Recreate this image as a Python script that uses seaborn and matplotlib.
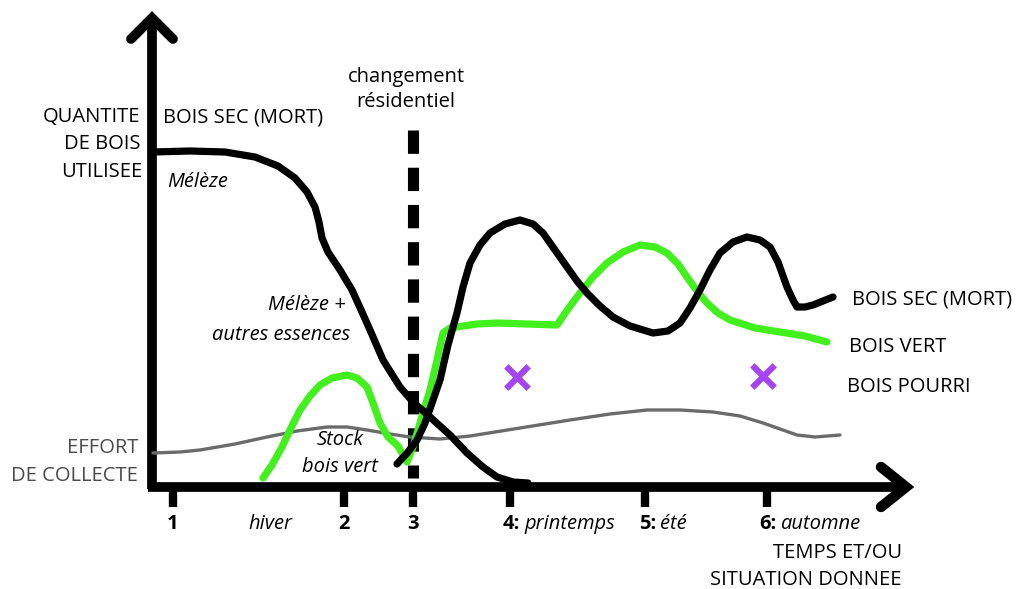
import numpy as np
import matplotlib.pyplot as plt
import seaborn as sns
import pandas as pd

sec_debut_x = [152, 190, 225, 255, 278, 295, 307, 315, 319, 322, 328, 340, 352, 362, 370,
               383, 400, 413, 430, 450, 467, 483, 497, 513, 528]
sec_debut_y = [335, 336, 335, 330, 321, 309, 295, 280, 265, 249, 235, 217, 197, 175, 157,
               127, 100, 85, 70, 52, 34, 20, 10, 5, 4]

sec_fin_x = [397, 408, 417, 425, 432, 440, 448, 457, 463, 470, 480, 490, 505, 520, 533, 543,
             555, 567, 577, 587, 600, 613, 630, 653, 668, 680, 690, 700, 710, 720, 733, 747,
             760, 770, 778, 787, 793, 797, 805, 813, 823, 833]
sec_fin_y = [23, 35, 47, 64, 84, 107, 142, 174, 200, 224, 242, 254, 263, 267, 263, 254,
             237, 220, 206, 194, 181, 170, 161, 154, 156, 164, 179, 197, 217, 234, 245, 250,
             247, 240, 225, 200, 187, 180, 180, 182, 186, 190]

vert_x = [263, 272, 282, 290, 300, 310, 320, 332, 347, 357, 367, 373, 380, 388, 398, 403,
          407, 413, 418, 423, 430, 437, 443, 450, 457, 477, 497, 527, 557, 568, 580, 593,
          607, 623, 640, 655, 667, 678, 687, 697, 707, 718, 730, 755, 780, 805, 827]
vert_y = [9, 22, 40, 57, 77, 91, 102, 109, 112, 109, 100, 84, 64, 50, 41, 32,
          25, 40, 57, 74, 97, 127, 154, 159, 160, 163, 164, 163, 162, 178, 194, 210,
          224, 235, 242, 240, 234, 223, 210, 196, 184, 174, 167, 159, 155, 151, 145]

effort_x = [153, 180, 200, 235, 267, 297, 327, 347, 367, 390, 410, 440, 470, 520, 570,
            610, 647, 680, 713, 740, 763, 780, 797, 815, 840]
effort_y = [34, 35, 37, 43, 50, 56, 60, 60, 57, 53, 50, 48, 51, 59, 67,
            73, 77, 77, 75, 71, 64, 58, 52, 50, 52]

pourri_x = [517, 763]
pourri_y = [110, 111]

ticks_x = [173, 344, 413, 510, 645, 767]
changement_x = 413

font = 'Open Sans'
noir = '#000000'
vert = '#41f01c'
gris = '#6b6b6b'
violet = '#a444f2'

sns.set_style('white')
plt.rcParams['font.family'] = [font, 'DejaVu Sans']
plt.rcParams['text.color'] = 'black'

fig = plt.figure(figsize=(10.17, 5.89), dpi=100)
ax = fig.add_axes([0, 0, 1, 1])
ax.set_xlim(0, 1017)
ax.set_ylim(-102, 487)
ax.axis('off')

# axes dessines a la main
ax.plot([152, 152], [-2, 468], color=noir, lw=7, solid_capstyle='butt')
ax.plot([148, 906], [0, 0], color=noir, lw=7, solid_capstyle='butt')
ax.plot([131, 152, 173], [448, 469, 448], color=noir, lw=7, solid_joinstyle='miter')
ax.plot([881, 906, 881], [20, 0, -20], color=noir, lw=7.5, solid_joinstyle='miter')
ax.vlines(ticks_x, -20, 0, color=noir, lw=6)

# changement residentiel
ax.plot([changement_x, changement_x], [357, 9], color=noir, lw=8,
        dashes=(2.1, 1.25), dash_capstyle='butt')

sns.lineplot(x=effort_x, y=effort_y, sort=False, estimator=None, color=gris, lw=2.4, ax=ax,
             solid_joinstyle='round')
sns.lineplot(x=vert_x, y=vert_y, sort=False, estimator=None, color=vert, lw=5.2, ax=ax,
             solid_joinstyle='round')
sns.lineplot(x=sec_debut_x, y=sec_debut_y, sort=False, estimator=None, color=noir, lw=5.2,
             ax=ax, solid_joinstyle='round')
sns.lineplot(x=sec_fin_x, y=sec_fin_y, sort=False, estimator=None, color=noir, lw=5.2,
             ax=ax, solid_joinstyle='round')
ax.scatter(pourri_x, pourri_y, marker='x', s=260, linewidths=4.5, color=violet, zorder=5)

fs = 14.5
ax.text(140, 370, 'QUANTITE', ha='right', va='center', fontsize=fs)
ax.text(140, 343, 'DE BOIS', ha='right', va='center', fontsize=fs)
ax.text(142, 315, 'UTILISEE', ha='right', va='center', fontsize=fs)
ax.text(138, 39, 'EFFORT', ha='right', va='center', fontsize=fs, color='#4a4a4a')
ax.text(138, 11, 'DE COLLECTE', ha='right', va='center', fontsize=fs, color='#4a4a4a')

ax.text(163, 370, 'BOIS SEC (MORT)', ha='left', va='center', fontsize=fs)
ax.text(167, 305, 'Mélèze', ha='left', va='center', fontsize=fs, style='italic')
ax.text(346, 182, 'Mélèze +', ha='right', va='center', fontsize=fs, style='italic')
ax.text(350, 152, 'autres essences', ha='right', va='center', fontsize=fs, style='italic')
ax.text(406, 410, 'changement', ha='center', va='center', fontsize=fs)
ax.text(406, 385, 'résidentiel', ha='center', va='center', fontsize=fs)
ax.text(340, 47, 'Stock', ha='center', va='center', fontsize=fs, style='italic')
ax.text(340, 20, 'bois vert', ha='center', va='center', fontsize=fs, style='italic')

ax.text(852, 188, 'BOIS SEC (MORT)', ha='left', va='center', fontsize=fs)
ax.text(849, 140, 'BOIS VERT', ha='left', va='center', fontsize=fs)
ax.text(847, 100, 'BOIS POURRI', ha='left', va='center', fontsize=fs)

# etiquettes de l'axe du temps
ty = -37
ax.text(173, ty, '1', ha='center', va='center', fontsize=fs, weight='bold')
ax.text(270, ty, 'hiver', ha='center', va='center', fontsize=fs, style='italic')
ax.text(344, ty, '2', ha='center', va='center', fontsize=fs, weight='bold')
ax.text(413, ty, '3', ha='center', va='center', fontsize=fs, weight='bold')
ax.text(503, ty, '4:', ha='left', va='center', fontsize=fs, weight='bold')
ax.text(524, ty, 'printemps', ha='left', va='center', fontsize=fs, style='italic')
ax.text(639, ty, '5:', ha='left', va='center', fontsize=fs, weight='bold')
ax.text(660, ty, 'été', ha='left', va='center', fontsize=fs, style='italic')
ax.text(759, ty, '6:', ha='left', va='center', fontsize=fs, weight='bold')
ax.text(780, ty, 'automne', ha='left', va='center', fontsize=fs, style='italic')
ax.text(902, -66, 'TEMPS ET/OU', ha='right', va='center', fontsize=fs)
ax.text(902, -93, 'SITUATION DONNEE', ha='right', va='center', fontsize=fs)

fig.savefig('out.png', dpi=100)
